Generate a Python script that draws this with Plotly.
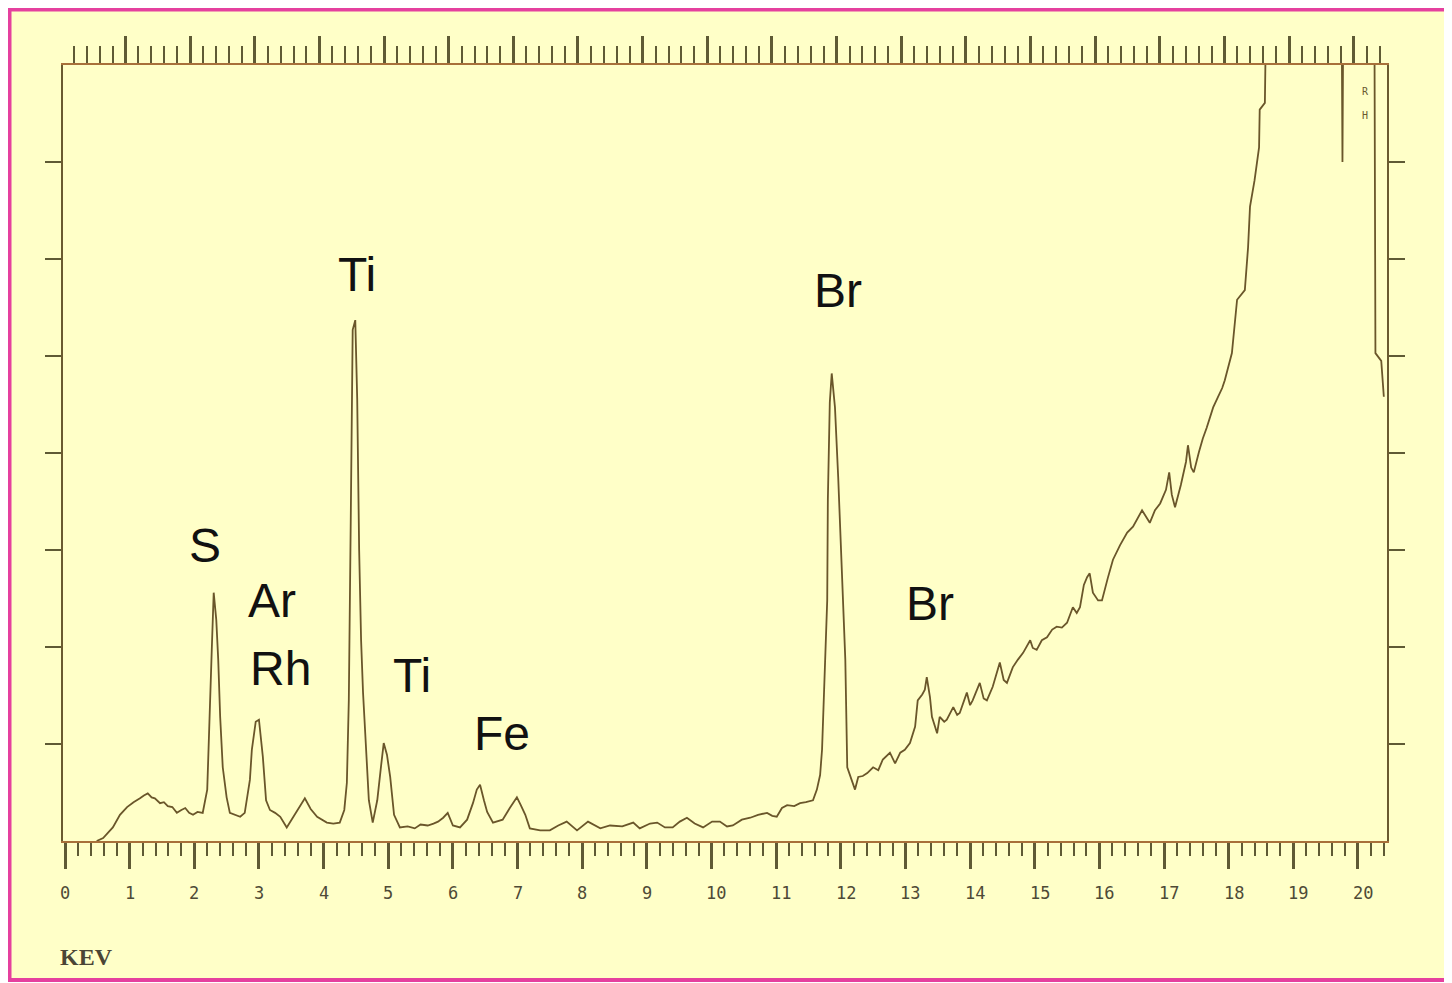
import plotly.graph_objects as go

# ---- data (energy in keV, intensity in axis units 0..8) ----
energy_kev = [
    0.49, 0.59, 0.74, 0.85, 0.96, 1.06, 1.16, 1.22, 1.28, 1.34, 1.39, 1.47, 1.53, 1.59, 1.66, 1.73,
    1.80, 1.86, 1.92, 1.98, 2.05, 2.13, 2.20, 2.24, 2.27, 2.30, 2.34, 2.37, 2.40, 2.44, 2.50, 2.55,
    2.63, 2.71, 2.78, 2.86, 2.89, 2.95, 3.00, 3.06, 3.11, 3.17, 3.25, 3.33, 3.43, 3.53, 3.62, 3.71,
    3.80, 3.90, 4.05, 4.15, 4.25, 4.32, 4.36, 4.39, 4.42, 4.45, 4.49, 4.52, 4.55, 4.58, 4.61, 4.66,
    4.70, 4.76, 4.83, 4.89, 4.93, 4.98, 5.03, 5.09, 5.18, 5.30, 5.41, 5.50, 5.61, 5.70, 5.77, 5.85,
    5.92, 6.00, 6.11, 6.22, 6.31, 6.37, 6.42, 6.48, 6.53, 6.62, 6.77, 6.88, 6.99, 7.05, 7.12, 7.19,
    7.35, 7.50, 7.63, 7.76, 7.92, 8.09, 8.28, 8.43, 8.62, 8.79, 8.89, 9.05, 9.16, 9.28, 9.40, 9.51,
    9.62, 9.74, 9.87, 10.01, 10.13, 10.24, 10.33, 10.47, 10.60, 10.72, 10.86, 10.94, 11.01, 11.09,
    11.17, 11.28, 11.37, 11.46, 11.57, 11.63, 11.68, 11.71, 11.75, 11.79, 11.80, 11.83, 11.86, 11.91,
    11.96, 12.02, 12.07, 12.10, 12.17, 12.22, 12.27, 12.34, 12.41, 12.50, 12.58, 12.65, 12.76, 12.84,
    12.92, 12.99, 13.07, 13.15, 13.19, 13.26, 13.30, 13.33, 13.38, 13.41, 13.49, 13.53, 13.60, 13.64,
    13.74, 13.80, 13.84, 13.95, 14.00, 14.04, 14.15, 14.21, 14.26, 14.35, 14.46, 14.52, 14.57, 14.66,
    14.74, 14.82, 14.93, 14.97, 15.03, 15.11, 15.19, 15.27, 15.34, 15.42, 15.50, 15.59, 15.65, 15.70,
    15.76, 15.81, 15.85, 15.90, 15.98, 16.04, 16.13, 16.21, 16.32, 16.43, 16.52, 16.66, 16.78, 16.86,
    16.94, 17.03, 17.08, 17.12, 17.17, 17.26, 17.34, 17.37, 17.42, 17.46, 17.54, 17.60, 17.66, 17.76,
    17.83, 17.90, 17.94, 18.05, 18.13, 18.25, 18.30, 18.33, 18.40, 18.47, 18.48, 18.56, 18.58, 18.80,
    19.20, 19.60, 19.74, 19.76, 19.78, 20.00, 20.25, 20.27, 20.36, 20.40,
]
counts = [
    0.00, 0.03, 0.14, 0.27, 0.35, 0.40, 0.44, 0.47, 0.49, 0.45, 0.44, 0.39, 0.40, 0.36, 0.35, 0.29,
    0.32, 0.34, 0.29, 0.27, 0.30, 0.29, 0.53, 1.25, 1.97, 2.56, 2.28, 1.87, 1.28, 0.76, 0.45, 0.29,
    0.27, 0.25, 0.29, 0.63, 0.94, 1.23, 1.25, 0.87, 0.42, 0.32, 0.29, 0.25, 0.14, 0.25, 0.35, 0.44,
    0.33, 0.25, 0.19, 0.18, 0.19, 0.32, 0.60, 1.45, 3.31, 5.27, 5.37, 4.55, 3.00, 2.07, 1.53, 0.84,
    0.42, 0.19, 0.42, 0.78, 1.01, 0.89, 0.66, 0.27, 0.14, 0.15, 0.13, 0.17, 0.16, 0.18, 0.20, 0.24,
    0.29, 0.16, 0.14, 0.22, 0.39, 0.53, 0.58, 0.42, 0.30, 0.19, 0.22, 0.34, 0.45, 0.37, 0.27, 0.13,
    0.11, 0.11, 0.16, 0.20, 0.11, 0.20, 0.13, 0.16, 0.15, 0.19, 0.13, 0.18, 0.19, 0.14, 0.14, 0.20,
    0.24, 0.18, 0.14, 0.20, 0.20, 0.15, 0.16, 0.22, 0.24, 0.27, 0.29, 0.26, 0.25, 0.34,
    0.37, 0.36, 0.39, 0.40, 0.42, 0.53, 0.68, 0.94, 1.63, 2.48, 3.52, 4.52, 4.82, 4.47,
    3.75, 2.82, 1.87, 0.76, 0.63, 0.53, 0.66, 0.67, 0.70, 0.76, 0.73, 0.84, 0.91, 0.80,
    0.91, 0.94, 1.01, 1.18, 1.45, 1.51, 1.56, 1.69, 1.48, 1.28, 1.11, 1.28, 1.23, 1.25,
    1.38, 1.30, 1.32, 1.53, 1.40, 1.45, 1.63, 1.47, 1.45, 1.59, 1.84, 1.66, 1.63, 1.79,
    1.87, 1.94, 2.07, 1.99, 1.97, 2.07, 2.10, 2.18, 2.21, 2.20, 2.25, 2.41, 2.35, 2.41,
    2.64, 2.72, 2.76, 2.56, 2.48, 2.48, 2.71, 2.90, 3.05, 3.18, 3.24, 3.41, 3.28, 3.41,
    3.48, 3.62, 3.80, 3.57, 3.44, 3.67, 3.91, 4.08, 3.85, 3.80, 4.01, 4.15, 4.26, 4.47,
    4.57, 4.67, 4.75, 5.03, 5.58, 5.68, 6.12, 6.54, 6.81, 7.15, 7.54, 7.61, 8.60, 9.50,
    9.80, 9.80, 9.50, 7.00, 9.50, 9.80, 9.50, 5.03, 4.95, 4.58,
]

tick_values = list(range(0, 21))
tick_labels = [str(v) for v in tick_values]

element_labels = ["S", "Ar", "Rh", "Ti", "Ti", "Fe", "Br", "Br"]
element_label_kev = [2.17, 3.20, 3.33, 4.52, 5.37, 6.76, 11.96, 13.38]
element_label_level = [3.05, 2.48, 1.78, 5.84, 1.71, 1.11, 5.68, 2.45]

axis_title = "KEV"

# ---- styling ----
BG = "#FFFFC8"
PINK = "#E5409E"
LINE = "#6A562A"
TICK = "#5F5A35"
HLINE = "#A8703A"
VLINE = "#6A5A30"

PAGE_OFF = 8                     # default body margin of the html page
W, H = 1452 - PAGE_OFF, 983 - PAGE_OFF
L, R, T, B = 63 - PAGE_OFF, 65, 65 - PAGE_OFF, 142
PW, PH = W - L - R, H - T - B

XR = [-0.031, 20.449]
TOP_SHIFT = 0.065


def px_x(p):
    """page pixel x -> paper fraction"""
    return (p - PAGE_OFF - L) / PW


def px_y(p):
    """page pixel y -> paper fraction"""
    return (H - B - (p - PAGE_OFF)) / PH


fig = go.Figure()
fig.add_trace(go.Scatter(
    x=energy_kev, y=counts, mode="lines",
    line=dict(color=LINE, width=1.8), hoverinfo="skip", showlegend=False,
))
fig.add_trace(go.Scatter(x=[], y=[], xaxis="x2", showlegend=False, hoverinfo="skip"))

annotations = []
for name, kx, ky in zip(element_labels, element_label_kev, element_label_level):
    annotations.append(dict(
        x=kx, y=ky, xref="x", yref="y", text=name, showarrow=False,
        xanchor="center", yanchor="middle",
        font=dict(family="Liberation Sans, Arial", size=48, color="#111111"),
    ))

for v, lab in zip(tick_values, tick_labels):
    annotations.append(dict(
        x=v, y=px_y(893), xref="x", yref="paper", text=lab, showarrow=False,
        xanchor="left", yanchor="middle", xshift=-7,
        font=dict(family="DejaVu Sans Mono, monospace", size=17, color="#4E4A36"),
    ))

annotations.append(dict(
    x=px_x(58), y=px_y(957), xref="paper", yref="paper", text="<b>" + axis_title + "</b>",
    showarrow=False, xanchor="left", yanchor="middle",
    font=dict(family="Liberation Serif, Times New Roman", size=24, color="#4B4535"),
))

for txt, py in (("R", 92), ("H", 115)):
    annotations.append(dict(
        x=px_x(1365), y=px_y(py), xref="paper", yref="paper", text=txt, showarrow=False,
        xanchor="center", yanchor="middle",
        font=dict(family="DejaVu Sans Mono, monospace", size=10, color="#6A5A30"),
    ))

shapes = [dict(
    type="rect", xref="paper", yref="paper", layer="below",
    x0=px_x(9.5), x1=px_x(1448), y0=px_y(980), y1=px_y(9.5),
    line=dict(color=PINK, width=4), fillcolor=BG,
)]

fig.update_layout(
    width=W, height=H,
    margin=dict(l=L, r=R, t=T, b=B, pad=0),
    paper_bgcolor="white", plot_bgcolor=BG,
    showlegend=False,
    annotations=annotations, shapes=shapes,
    xaxis=dict(
        range=XR, showgrid=False, zeroline=False,
        showline=True, linecolor=HLINE, linewidth=2, mirror=False,
        ticks="outside", tickmode="linear", tick0=0, dtick=1, ticklen=26, tickwidth=2.5,
        tickcolor=TICK, showticklabels=False,
        minor=dict(ticks="outside", dtick=0.2, tick0=0, ticklen=13, tickwidth=2, tickcolor=TICK, showgrid=False),
    ),
    xaxis2=dict(
        range=[XR[0] + TOP_SHIFT, XR[1] + TOP_SHIFT], overlaying="x", side="top", anchor="y",
        showgrid=False, zeroline=False,
        showline=True, linecolor=HLINE, linewidth=2,
        ticks="outside", tickmode="linear", tick0=0, dtick=1, ticklen=27, tickwidth=2.5,
        tickcolor=TICK, showticklabels=False,
        minor=dict(ticks="outside", dtick=0.2, tick0=0, ticklen=17, tickwidth=2, tickcolor=TICK, showgrid=False),
    ),
    yaxis=dict(
        range=[0, 8], showgrid=False, zeroline=False,
        showline=True, linecolor=VLINE, linewidth=2, mirror="ticks",
        ticks="outside", tickvals=[1, 2, 3, 4, 5, 6, 7], ticklen=16, tickwidth=2,
        tickcolor=TICK, showticklabels=False,
    ),
)

fig.write_html("out.html")
